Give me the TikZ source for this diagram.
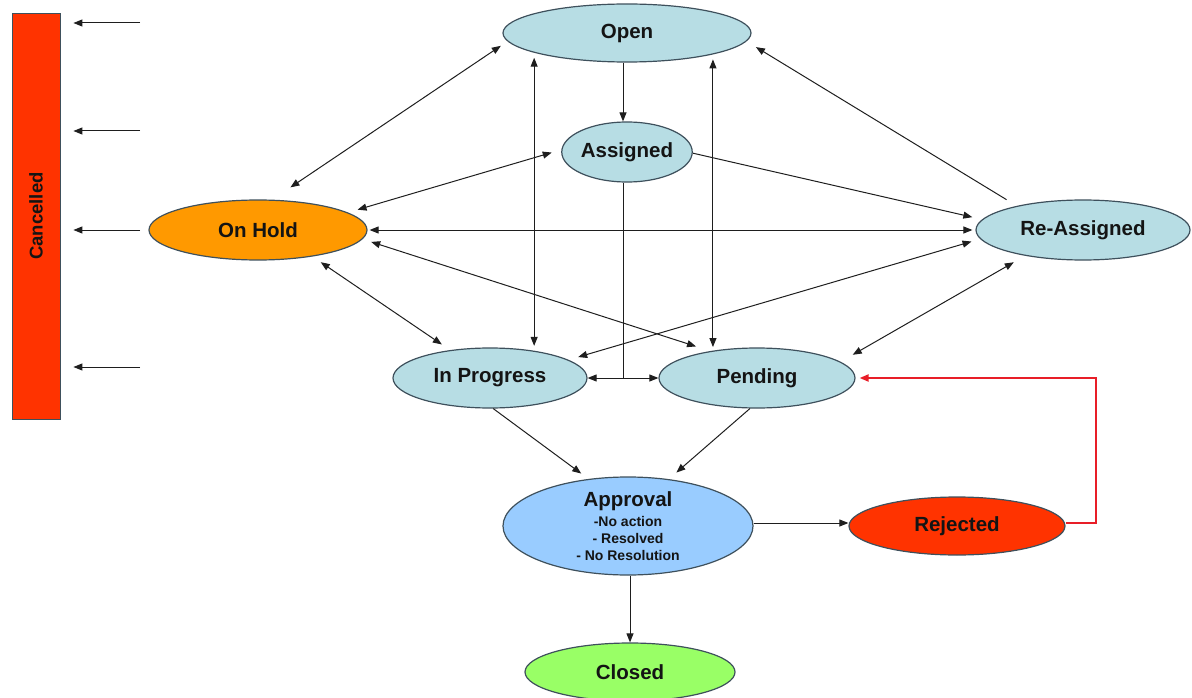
\documentclass[tikz,border=0pt]{standalone}
\usepackage{fontspec}
\setmainfont{Liberation Sans}
\usepackage{tikz}
\usetikzlibrary{calc,positioning,arrows.meta,shapes}

\definecolor{stateblue}{RGB}{183,221,228}
\definecolor{holdorange}{RGB}{255,153,0}
\definecolor{approvalblue}{RGB}{153,204,255}
\definecolor{rejectred}{RGB}{255,51,0}
\definecolor{closedgreen}{RGB}{153,255,102}
\definecolor{stateline}{RGB}{62,80,92}
\definecolor{linegray}{RGB}{30,30,30}
\definecolor{textgray}{RGB}{20,20,20}
\definecolor{backred}{RGB}{232,30,40}

\newcommand{\subtxt}{\fontsize{14}{17}\selectfont}

\begin{document}
\begin{tikzpicture}[x=1pt,y=-1pt,
  state/.style={ellipse, draw=stateline, line width=1.2pt, inner sep=0pt,
    text=textgray, font=\fontsize{20.5}{24}\selectfont\bfseries},
  link/.style={draw=linegray, line width=1pt},
  backlink/.style={draw=backred, line width=2pt},
  >={Triangle[length=9pt,width=7pt]}]
\useasboundingbox (0,0) rectangle (1192,698);
\clip (0,0) rectangle (1192,698);

% states
\node[state, fill=stateblue, minimum width=248pt, minimum height=58pt] (open) at (627,33) {Open};
\node[state, fill=stateblue, minimum width=130pt, minimum height=60pt] (assigned) at (627,152) {Assigned};
\node[state, fill=holdorange, minimum width=218pt, minimum height=60pt] (onhold) at (258,230) {On Hold};
\node[state, fill=stateblue, minimum width=214pt, minimum height=60pt] (reassigned) at (1083,230) {Re-Assigned};
\node[state, fill=stateblue, minimum width=194pt, minimum height=60pt] (inprog) at (490,378) {In Progress};
\node[state, fill=stateblue, minimum width=196pt, minimum height=60pt] (pending) at (757,378) {Pending};
\node[state, fill=approvalblue, minimum width=250pt, minimum height=98pt, align=center] (approval) at (628,526)
  {Approval\\[-4pt]{\subtxt -No action}\\[-7pt]{\subtxt - Resolved}\\[-7pt]{\subtxt - No Resolution}};
\node[state, fill=rejectred, minimum width=216pt, minimum height=58pt] (rejected) at (957,526) {Rejected};
\node[state, fill=closedgreen, minimum width=210pt, minimum height=58pt] (closed) at (630,672) {Closed};

% cancelled bar
\node[draw=stateline, fill=rejectred, line width=0.8pt, minimum width=48pt, minimum height=406pt, inner sep=0pt] (cancel) at (36,216) {};
\node[rotate=90, text=textgray, font=\fontsize{18.5}{22}\selectfont\bfseries] (cancellabel) at (cancel) {Cancelled};
\foreach \y in {23,131,230,367}
  \draw[link,->,shorten >=13pt] (140,\y) -- (cancel.east |- 0,\y);

% transitions
\draw[link,<->,shorten <=8pt,shorten >=22pt] (open.184) -- (onhold.65);
\draw[link,->] ([xshift=-4pt]open.south) -- ([xshift=-4pt]assigned.north);
\draw[link,<->,shorten <=5pt,shorten >=5pt] (open.192) -- (open.192 |- inprog.31);
\draw[link,<->,shorten <=5pt,shorten >=4pt] (open.346) -- (open.346 |- pending.150);
\draw[link,->,shorten <=12pt,shorten >=11pt] (reassigned.160) -- (open.356);
\draw[link,<->,shorten <=10pt,shorten >=10pt] (assigned.178) -- (onhold.11);
\draw[link,->,shorten >=10pt] (assigned.359) -- (reassigned.174);
\draw[link,<->,shorten <=2pt,shorten >=3pt] (onhold.east) -- (reassigned.west);

\coordinate (split) at ($(assigned.south |- inprog.east)+(-4,0)$);
\draw[link] ([xshift=-4pt]assigned.south) -- (split);
\draw[link,->] (split) -- (inprog.east);
\draw[link,->] (split) -- (pending.west);

\draw[link,<->,shorten <=10pt,shorten >=10pt] (onhold.334) -- (inprog.145);
\draw[link,<->,shorten <=9pt,shorten >=15pt] (onhold.355) -- (pending.150);
\draw[link,<->,shorten <=9pt,shorten >=10pt] (reassigned.185) -- (inprog.13);
\draw[link,<->,shorten <=13pt,shorten >=14pt] (reassigned.204) -- (pending.11);

\draw[link,->,shorten >=9pt] (inprog.276) -- (approval.130);
\draw[link,->,shorten >=10pt] (pending.257) -- (approval.49);
\draw[link,->] ([yshift=3pt]approval.east) -- ([yshift=3pt]rejected.west);
\draw[link,->] (closed.north |- approval.south) -- (closed.north);
\draw[backlink,->,shorten >=4pt] ([yshift=3pt]rejected.east) -- ++(30,0) |- (pending.east);

\end{tikzpicture}
\end{document}
